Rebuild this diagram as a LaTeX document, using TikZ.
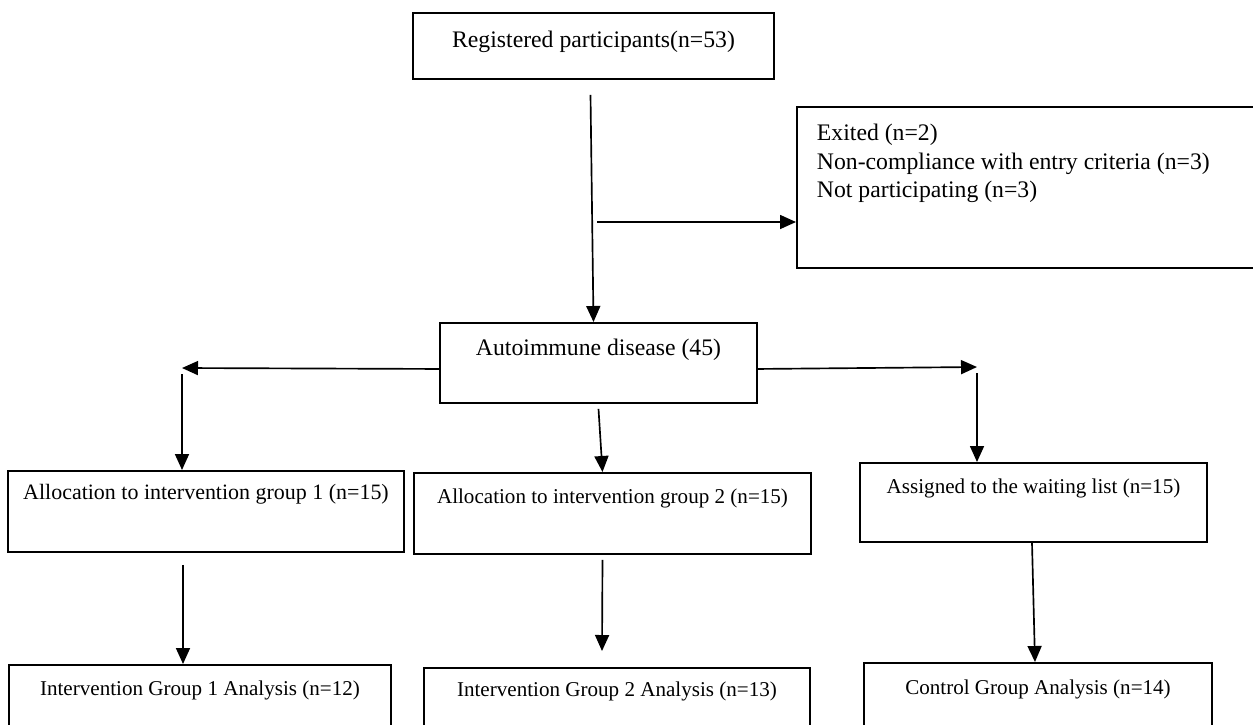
\documentclass[tikz,border=0pt]{standalone}
\usepackage{fontspec}
\setmainfont{Liberation Serif}
\usetikzlibrary{arrows.meta,calc}

\begin{document}
\begin{tikzpicture}[x=0.02cm, y=-0.02cm,
		flowbox/.style={draw, line width=1.1pt, inner xsep=0pt, inner ysep=0pt, anchor=north},
		bigtext/.style={font=\fontsize{13.5}{16.2}\selectfont},
		midtext/.style={font=\fontsize{12.5}{15}\selectfont},
		smalltext/.style={font=\fontsize{12}{14.4}\selectfont},
		flowarrow/.style={line width=0.95pt, -{Triangle[width=0.28cm, length=0.32cm]}}]
				\clip (0,0) rectangle (1253,724);

				% Enrolment and exclusion
				\node[flowbox, bigtext, minimum width=7.22cm, text height=0.70cm, text depth=0.62cm] (registered) at (593.5,12) {Registered participants(n=53)};
				\node[flowbox, bigtext, anchor=north west, text width=8.6cm, align=flush left, inner xsep=0.4cm, text height=0.68cm, text depth=2.54cm] (exit) at (796,106)
					{Exited (n=2)\\Non-compliance with entry criteria (n=3)\\Not participating (n=3)};
				\node[flowbox, bigtext, minimum width=6.34cm, text height=0.66cm, text depth=0.94cm] (autoimmune) at (598.5,322) {Autoimmune disease (45)};

				% Allocation
				\node[flowbox, midtext, minimum width=7.92cm, text height=0.58cm, text depth=1.04cm] (alloc1) at (206,470) {Allocation to intervention group 1 (n=15)};
				\node[flowbox, smalltext, minimum width=7.94cm, text height=0.62cm, text depth=1.0cm] (alloc2) at (612.5,472) {Allocation to intervention group 2 (n=15)};
				\node[flowbox, smalltext, minimum width=6.94cm, text height=0.62cm, text depth=0.96cm] (waitlist) at (1033.5,462) {Assigned to the waiting list (n=15)};

				% Analysis
				\node[flowbox, smalltext, minimum width=7.64cm, text height=0.62cm, text depth=1.4cm] (analysis1) at (200,664) {Intervention Group 1 Analysis (n=12)};
				\node[flowbox, smalltext, minimum width=7.72cm, text height=0.58cm, text depth=1.4cm] (analysis2) at (617,667) {Intervention Group 2 Analysis (n=13)};
				\node[flowbox, smalltext, minimum width=6.96cm, text height=0.64cm, text depth=1.4cm] (analysis3) at (1038,662) {Control Group Analysis (n=14)};

				% Turning points of the connectors
				\coordinate (split) at (595,222);
				\coordinate (lturn) at (182,368);
				\coordinate (rturn) at (977,367);

				% Arrows
				\draw[flowarrow] ($(registered.south)+(-3,15)$) -- ($(autoimmune.north)+(-5,0)$);
				\draw[flowarrow] ($(split)+(2,0)$) -- (split -| exit.west);
				\draw[flowarrow] ($(autoimmune.west)+(0,6)$) -- (lturn);
				\draw[flowarrow] ($(lturn)+(0,6)$) -- (lturn |- alloc1.north);
				\draw[flowarrow] ($(autoimmune.east)+(0,6)$) -- (rturn);
				\draw[flowarrow] ($(rturn)+(0,6)$) -- (rturn |- waitlist.north);
				\draw[flowarrow] ($(autoimmune.south)+(0,5)$) -- ($(alloc2.north)+(-10,0)$);
				\draw[flowarrow] ($(alloc1.south)+(-23,12)$) -- ($(analysis1.north)+(-17,0)$);
				\draw[flowarrow] ($(alloc2.south)+(-10,5)$) -- ($(analysis2.north)+(-15,-16)$);
				\draw[flowarrow] ($(waitlist.south)+(-1.5,0)$) -- ($(analysis3.north)+(-3,0)$);
			\end{tikzpicture}
\end{document}
